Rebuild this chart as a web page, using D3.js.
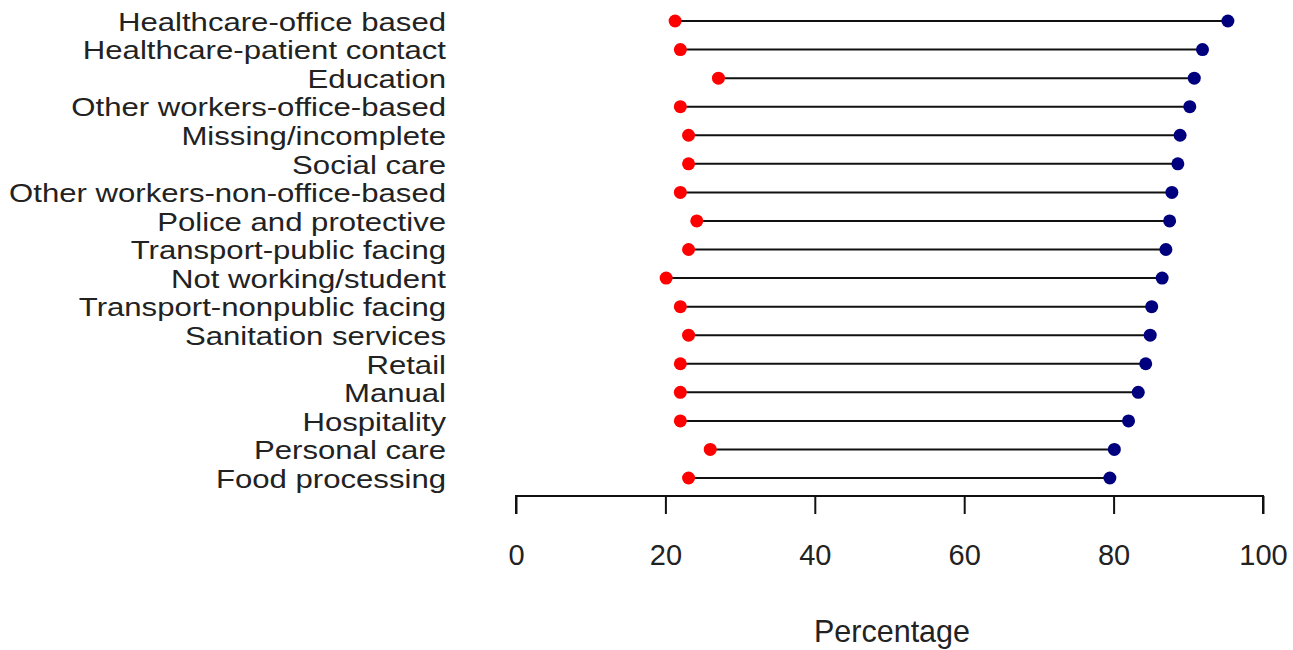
<!DOCTYPE html>
<html><head><meta charset="utf-8">
<script src="https://cdn.jsdelivr.net/npm/d3@7"></script>
<style>body{margin:0;background:#fff;} text{font-family:"Liberation Sans",Arial,sans-serif;}</style>
</head><body>
<svg id="chart" width="1293" height="650"></svg>
<script>
const categories = ["Healthcare-office based","Healthcare-patient contact","Education","Other workers-office-based","Missing/incomplete","Social care","Other workers-non-office-based","Police and protective","Transport-public facing","Not working/student","Transport-nonpublic facing","Sanitation services","Retail","Manual","Hospitality","Personal care","Food processing"];
const lowValues = [21.3,22.0,27.1,22.0,23.1,23.1,22.0,24.2,23.1,20.1,22.0,23.1,22.0,22.0,22.0,26.0,23.1];
const highValues = [95.3,91.9,90.8,90.2,88.9,88.6,87.8,87.5,87.0,86.5,85.1,84.9,84.3,83.3,82.0,80.1,79.5];
const xTicks = [0,20,40,60,80,100];

const svg = d3.select("#chart");
const x = d3.scaleLinear().domain([0,100]).range([516,1263]);
const y = d3.scalePoint().domain(categories).range([21,478]);

const rows = categories.map((c,i)=>({c, lo: lowValues[i], hi: highValues[i]}));

svg.selectAll("line.seg").data(rows).join("line").attr("class","seg")
  .attr("x1",d=>x(d.lo)).attr("x2",d=>x(d.hi))
  .attr("y1",d=>y(d.c)).attr("y2",d=>y(d.c))
  .attr("stroke","#111").attr("stroke-width",2);

svg.selectAll("circle.lo").data(rows).join("circle").attr("class","lo")
  .attr("cx",d=>x(d.lo)).attr("cy",d=>y(d.c)).attr("r",6.5).attr("fill","#ff0000");
svg.selectAll("circle.hi").data(rows).join("circle").attr("class","hi")
  .attr("cx",d=>x(d.hi)).attr("cy",d=>y(d.c)).attr("r",6.5).attr("fill","#00007f");

// labels: tight row spacing, so slightly smaller font stretched horizontally to match reference widths
svg.selectAll("text.cat").data(rows).join("text").attr("class","cat")
  .attr("transform",d=>`translate(446,${y(d.c)}) scale(1.235,1.02)`)
  .attr("dy","0.38em")
  .attr("text-anchor","end").attr("font-size",25.2).attr("fill","#222")
  .text(d=>d.c);

const ax = svg.append("g").attr("transform","translate(0,496)")
  .call(d3.axisBottom(x).tickValues(xTicks).tickSize(18).tickPadding(30).tickFormat(d3.format("d")));
ax.select(".domain").attr("stroke","#111").attr("stroke-width",2).attr("d","M516,18V0H1263V18");
ax.selectAll(".tick line").attr("stroke","#111").attr("stroke-width",2);
ax.selectAll(".tick text").attr("font-size",29).attr("fill","#222").attr("font-family","Liberation Sans, Arial, sans-serif");

svg.append("text").attr("x",892).attr("y",642).attr("text-anchor","middle")
  .attr("font-size",30.5).attr("fill","#222").text("Percentage");
</script>
</body></html>
